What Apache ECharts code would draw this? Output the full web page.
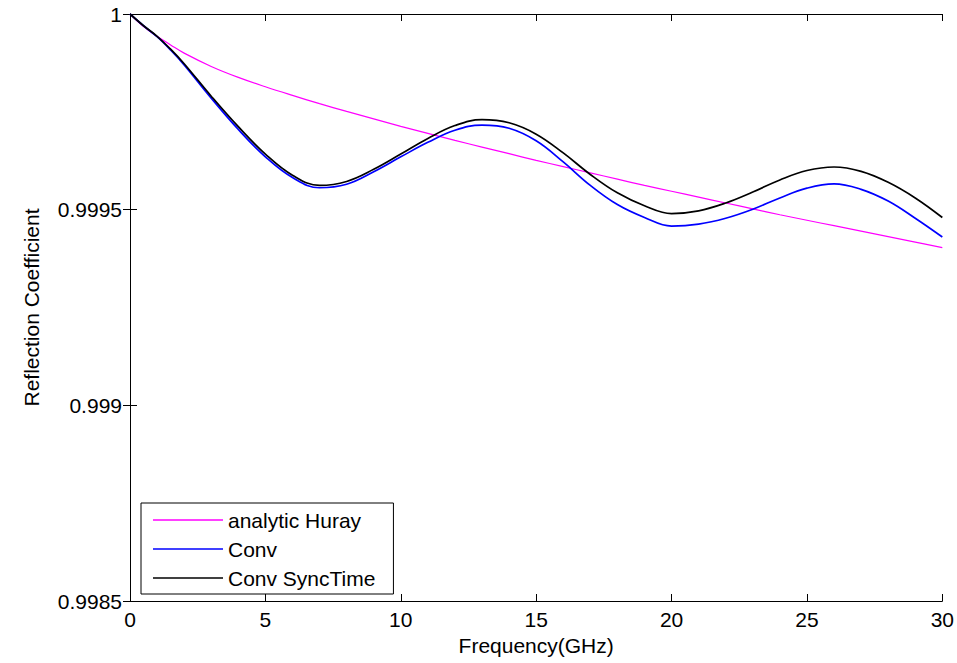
<!DOCTYPE html>
<html>
<head>
<meta charset="utf-8">
<script src="https://cdn.jsdelivr.net/npm/echarts@6/dist/echarts.min.js"></script>
<style>
  html, body { margin: 0; padding: 0; background: #fff; }
  #chart { width: 957px; height: 663px; }
</style>
</head>
<body>
<div id="chart"></div>
<script>
  // frequency grid (GHz)
  var freq = [0, 0.5, 1, 1.5, 2, 3, 4, 5, 6, 7, 8, 9, 10, 11, 12, 13, 14, 15, 16, 17, 18, 19, 20,
              21, 22, 23, 24, 25, 26, 27, 28, 29, 30];

  var huray = [1.0, 0.999968, 0.999943, 0.999921, 0.999900, 0.999866, 0.999838, 0.999814,
               0.999792, 0.999771, 0.999751, 0.999732, 0.999713, 0.999695, 0.999677, 0.99966,
               0.999643, 0.999626, 0.99961, 0.999594, 0.999578, 0.999562, 0.999547, 0.999532,
               0.999517, 0.999502, 0.999487, 0.999473, 0.999459, 0.999445, 0.999431, 0.999417,
               0.999403];

  var conv = [1.0, 0.99997, 0.999942, 0.999908, 0.99987, 0.999785, 0.999705, 0.999635, 0.999582,
              0.999556, 0.999565, 0.999597, 0.999635, 0.999672, 0.999703, 0.999716, 0.999708,
              0.999676, 0.999622, 0.999562, 0.999513, 0.99948, 0.999458, 0.999463, 0.999478,
              0.999501, 0.99953, 0.999555, 0.999566, 0.999552, 0.999522, 0.999478, 0.99943];

  var convSync = [1.0, 0.99997, 0.999943, 0.99991, 0.999873, 0.99979, 0.999712, 0.999642,
                  0.999588, 0.999562, 0.999572, 0.999603, 0.999642, 0.999682, 0.999715, 0.99973,
                  0.999722, 0.999693, 0.999645, 0.99959, 0.999543, 0.99951, 0.99949, 0.999497,
                  0.999517, 0.999545, 0.999576, 0.9996, 0.999609, 0.999598, 0.99957, 0.99953,
                  0.99948];

  var seriesNames = ['analytic Huray', 'Conv', 'Conv SyncTime'];

  function pairs(vals) {
    return freq.map(function(f, i) { return [f, vals[i]]; });
  }

  var font = 'Liberation Sans, Arial, sans-serif';
  var chart = echarts.init(document.getElementById('chart'), null, { renderer: 'svg' });

  var tickStyle = { inside: true, length: 7, lineStyle: { color: '#000' } };

  chart.setOption({
    animation: false,
    backgroundColor: '#fff',
    grid: { left: 130, right: 14, top: 14, bottom: 62, show: false },
    legend: {
      data: seriesNames,
      orient: 'vertical',
      left: 141,
      top: 503,
      padding: [6, 18, 5, 12],
      icon: 'rect',
      itemWidth: 70,
      itemHeight: 1.5,
      itemGap: 7,
      backgroundColor: '#fff',
      borderColor: '#000',
      borderWidth: 1,
      borderRadius: 0,
      textStyle: { fontFamily: font, fontSize: 21, color: '#000', lineHeight: 22 }
    },
    xAxis: [{
      type: 'value',
      min: 0, max: 30, interval: 5,
      name: 'Frequency(GHz)',
      nameLocation: 'middle',
      nameGap: 33,
      nameTextStyle: { fontFamily: font, fontSize: 21, color: '#000' },
      axisLine: { lineStyle: { color: '#000' } },
      axisTick: tickStyle,
      axisLabel: { fontFamily: font, fontSize: 21, color: '#000', margin: 8 },
      splitLine: { show: false }
    }, {
      type: 'value',
      position: 'top',
      min: 0, max: 30, interval: 5,
      axisLine: { show: true, lineStyle: { color: '#000' } },
      axisTick: tickStyle,
      axisLabel: { show: false },
      splitLine: { show: false }
    }],
    yAxis: [{
      type: 'value',
      min: 0.9985, max: 1, interval: 0.0005,
      name: 'Reflection Coefficient',
      nameLocation: 'middle',
      nameGap: 88,
      nameTextStyle: { fontFamily: font, fontSize: 21, color: '#000' },
      axisLine: { show: true, lineStyle: { color: '#000' } },
      axisTick: tickStyle,
      axisLabel: {
        fontFamily: font, fontSize: 21, color: '#000', margin: 8,
        formatter: function(v) { return String(parseFloat(v.toFixed(4))); }
      },
      splitLine: { show: false }
    }, {
      type: 'value',
      position: 'right',
      min: 0.9985, max: 1, interval: 0.0005,
      axisLine: { show: true, lineStyle: { color: '#000' } },
      axisTick: tickStyle,
      axisLabel: { show: false },
      splitLine: { show: false }
    }],
    series: [{
      name: seriesNames[0],
      type: 'line',
      data: pairs(huray),
      smooth: 0.4,
      symbol: 'none',
      lineStyle: { color: '#ff00ff', width: 1.2 },
      itemStyle: { color: '#ff00ff' }
    }, {
      name: seriesNames[1],
      type: 'line',
      data: pairs(conv),
      smooth: 0.4,
      symbol: 'none',
      lineStyle: { color: '#0000ff', width: 1.7 },
      itemStyle: { color: '#0000ff' }
    }, {
      name: seriesNames[2],
      type: 'line',
      data: pairs(convSync),
      smooth: 0.4,
      symbol: 'none',
      lineStyle: { color: '#000000', width: 1.7 },
      itemStyle: { color: '#000000' }
    }]
  });
</script>
</body>
</html>
